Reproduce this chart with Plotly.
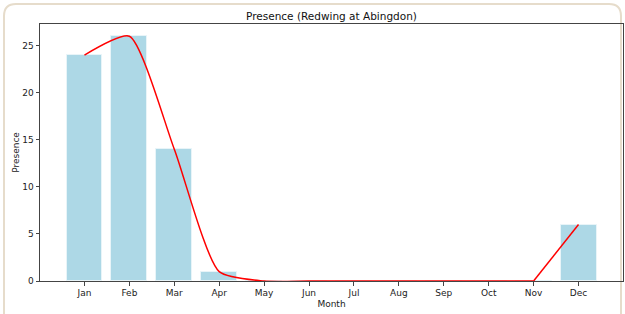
import plotly.graph_objects as go

months = ["Jan", "Feb", "Mar", "Apr", "May", "Jun", "Jul", "Aug", "Sep", "Oct", "Nov", "Dec"]
presence = [24, 26, 14, 1, 0, 0, 0, 0, 0, 0, 0, 6]

W, H = 625, 314
ML, MR, MT, MB = 40, 2, 24, 33
PW, PH = W - ML - MR, H - MT - MB

def px(x):
    return (x - ML) / PW

def py(y):
    return (H - MB - y) / PH

xs = list(range(len(months)))

fig = go.Figure()
fig.add_trace(go.Bar(x=xs, y=presence, width=0.8, marker=dict(color="#add8e6", line=dict(color="#e8f4f8", width=1)),
                     hoverinfo="skip"))
# smooth curve through Jan..Nov, straight segment Nov..Dec
fig.add_trace(go.Scatter(x=xs[:11], y=presence[:11], mode="lines",
                         line=dict(color="red", width=1.5, shape="spline", smoothing=0.6), hoverinfo="skip"))
fig.add_trace(go.Scatter(x=xs[10:], y=presence[10:], mode="lines",
                         line=dict(color="red", width=1.5), hoverinfo="skip"))

# decorative rounded frame
r = 12
x0, y0, x1, y1 = 4, 4, 621, 330
path = (f"M {px(x0)},{py(y1)} L {px(x0)},{py(y0 + r)} "
        f"Q {px(x0)},{py(y0)} {px(x0 + r)},{py(y0)} "
        f"L {px(x1 - r)},{py(y0)} Q {px(x1)},{py(y0)} {px(x1)},{py(y0 + r)} "
        f"L {px(x1)},{py(y1)}")
fig.add_shape(type="path", path=path, xref="paper", yref="paper",
              line=dict(color="#e6dccb", width=2), layer="below")

fig.update_layout(
    width=W, height=H,
    margin=dict(l=ML, r=MR, t=MT, b=MB, autoexpand=False),
    paper_bgcolor="white", plot_bgcolor="white",
    showlegend=False,
    font=dict(family="DejaVu Sans", color="#222", size=9),
    title=dict(text="Presence (Redwing at Abingdon)", x=331.5 / W, xanchor="center",
               y=1 - 16 / H, yanchor="middle", font=dict(size=10.5, color="#111")),
    bargap=0,
)
fig.update_xaxes(range=[-0.99, 11.99], tickmode="array", tickvals=xs, ticktext=months,
                 showgrid=False, zeroline=False, showline=True, linecolor="#444", linewidth=1, mirror=True,
                 ticks="outside", ticklen=3.5, tickcolor="#444",
                 title=dict(text="Month", standoff=3, font=dict(size=9)))
fig.update_yaxes(range=[0, 27.3], tickvals=[0, 5, 10, 15, 20, 25],
                 showgrid=False, zeroline=False, showline=True, linecolor="#444", linewidth=1, mirror=True,
                 ticks="outside", ticklen=3.5, tickcolor="#444",
                 title=dict(text="Presence", standoff=1, font=dict(size=9)))

fig.write_html("out.html", config={"displayModeBar": False},
               post_script="document.body.style.margin='0';document.body.style.overflow='hidden';")
